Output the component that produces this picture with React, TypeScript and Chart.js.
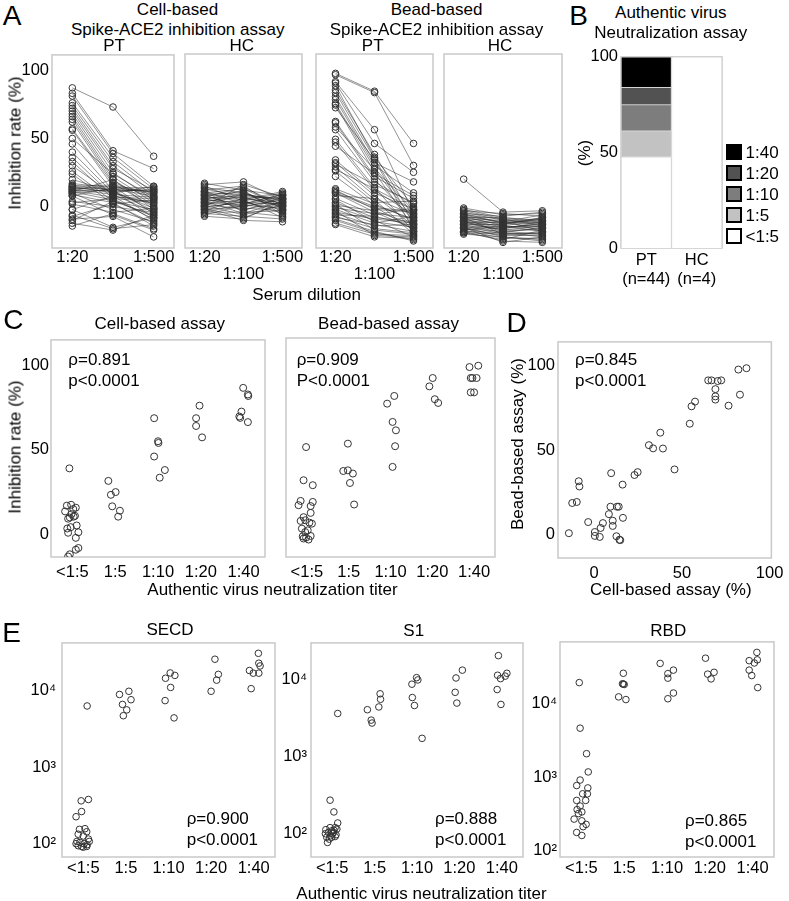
import React, { useEffect, useRef } from 'react';
import { Chart, registerables } from 'chart.js';

Chart.register(...registerables);

const FONT = "'Liberation Sans', Arial, Helvetica, sans-serif";
const TICK_SIZE = 16.5;
const TEXT_SIZE = 17;
Chart.defaults.font.family = FONT;
Chart.defaults.font.size = TICK_SIZE;
Chart.defaults.color = '#000';

// ---------------- DATA ----------------
const DILUTIONS = ['1:20', '1:100', '1:500'];
const TITERS = ['<1:5', '1:5', '1:10', '1:20', '1:40'];

// Panel A: each row = one serum, inhibition (%) at 1:20, 1:100, 1:500
const cellPT = [
  [87, 73, 37], [83, 41, 28], [81, 39, 15], [76, 36, 13], [74, 33, 10], [72, 30, 8], [70, 28, 12],
  [68, 25, 5], [66, 22, 3], [64, 20, -2], [62, 18, 6], [57, 17, 0], [56, 15, -5], [46, 12, -8],
  [40, 10, 2], [36, 8, -10], [33, 6, 4], [26, 4, -6], [24, 2, -12], [17, 14, 14], [16, 12, 12],
  [15, 16, 10], [15, 10, 15], [14, 13, 11], [14, 11, 13], [13, 9, 7], [13, 15, 9], [12, 12, -3],
  [12, 7, 6], [11, 20, 1], [11, 5, -7], [10, 13, 8], [10, -2, -11], [9, 3, -14], [8, 14, 11],
  [8, -6, -17], [4, 0, -4], [3, 6, -9], [2, -4, -1], [-2, 8, 3], [-2, -15, -8], [-6, -16, -13],
  [-7, 2, 5], [-9, -7, -22], [-10, 4, -2], [-12, -17, -6], [-14, -5, -16], [20, 11, -1], [30, 9, -4],
  [50, 24, 7],
];
const cellHC = [
  [17, 12, 8], [16, 18, 5], [15, 4, 10], [14, 10, 2], [13, 7, 6], [12, 15, -2], [11, 2, 9], [10, 9, 4],
  [10, 13, 0], [9, -3, 7], [9, 6, 3], [8, 11, -4], [8, 0, 5], [7, 5, 11], [7, 14, 1], [6, -1, -3],
  [6, 8, 6], [5, 3, 2], [5, 12, -6], [4, -5, 4], [4, 7, 0], [3, 1, 8], [3, 10, -1], [2, -2, 3],
  [2, 5, -8], [1, 9, 5], [1, -6, 1], [0, 3, -2], [0, 16, 7], [-1, -8, 2], [-1, 4, -5], [-2, 0, 6],
  [-2, -10, -11], [-3, 6, 1], [-4, -4, -3], [-4, 2, 9], [-5, -7, -9], [-6, 1, -1], [-7, -9, 4], [11, -4, -7],
];
const beadPT = [
  [97, 84, 46], [96, 83, 30], [91, 56, -5], [90, 46, 25], [85, 38, -8], [83, 35, -12], [80, 32, 18],
  [78, 30, 10], [75, 28, -3], [74, 25, -15], [62, 22, 6], [61, 20, -10], [56, 18, 2], [49, 14, -18],
  [47, 12, -6], [34, 10, -2], [32, 8, -14], [29, 5, -20], [26, 3, 4], [22, 1, -9], [12, -2, -4],
  [10, -4, -16], [6, -6, -1], [3, -8, -11], [0, -10, -22], [-2, -12, -7], [-5, -14, -13], [-7, -16, -19],
  [-9, -18, -25], [-12, -20, -21], [-13, -22, -23], [27, 13, -2], [31, 16, 3], [44, 24, 8], [58, 27, -9],
  [72, 34, -17], [88, 36, 0], [10, -1, -3], [-1, -5, -8], [-4, -9, -12], [5, -11, -15], [-8, -13, -18],
  [2, -17, -20], [-10, -19, -24], [8, 6, -6], [13, 2, -10], [-3, -21, -22], [1, -3, -13], [-6, -7, -14],
  [11, 0, -17],
];
const beadHC = [
  [20, -4, -3], [-1, -6, -5], [-2, -8, -10], [-3, -5, -7], [-4, -10, -12], [-5, -7, -4], [-5, -12, -9],
  [-6, -9, -14], [-7, -11, -6], [-7, -14, -16], [-8, -8, -11], [-8, -13, -8], [-9, -15, -13], [-9, -10, -18],
  [-10, -16, -12], [-10, -12, -15], [-11, -14, -10], [-11, -18, -20], [-12, -11, -13], [-12, -17, -17],
  [-13, -13, -9], [-13, -19, -22], [-14, -15, -14], [-14, -20, -19], [-15, -16, -11], [-15, -22, -24],
  [-16, -18, -16], [-16, -21, -21], [-17, -14, -18], [-17, -23, -23], [-18, -19, -15], [-18, -25, -26],
  [-19, -20, -20], [-19, -24, -17], [-20, -22, -25], [-6, -12, -8], [-3, -9, -12], [-11, -17, -14],
  [-15, -26, -22], [-8, -20, -19],
];

// Panel B: number of sera per titer group (bottom -> top)
const titerGroups = ['<1:5', '1:5', '1:10', '1:20', '1:40'];
const ptCounts = [21, 6, 6, 4, 7];
const hcCounts = [4, 0, 0, 0, 0];
const titerColors = ['#ffffff', '#c2c2c2', '#7d7d7d', '#525252', '#000000'];
const groupLabels = [['PT', '(n=44)'], ['HC', '(n=4)']];

// Panel C: [titer position (with jitter), inhibition %]
const cellVsTiter = [
  [-0.07, 39], [-0.13, 17], [-0.03, 17.5], [-0.17, 13.6], [0.08, 15.8], [0.06, 11], [-0.06, 10], [-0.1, 9.3],
  [-0.04, 4.3], [0.1, 5.3], [-0.1, 1], [0.14, 1.3], [0.08, -2], [0.14, -8], [0.08, -9], [-0.06, -11.7],
  [-0.1, -13], [-0.02, 12], [0.02, 15], [0.03, 10.5], [-0.12, 3.5],
  [0.84, 31.6], [0.9, 23.4], [1.01, 25], [0.93, 16.6], [1.11, 14], [1.07, 10.5],
  [1.91, 68.6], [2.0, 55], [2.01, 54], [1.91, 46], [2.16, 38], [2.04, 33.5],
  [2.89, 68.6], [2.97, 76], [2.89, 64], [3.03, 57.3],
  [3.99, 86.5], [4.1, 82.6], [4.11, 81.7], [3.95, 72.5], [3.9, 69.6], [3.92, 68.8], [4.1, 66.3],
];
const beadVsTiter = [
  [-0.02, 51], [-0.08, 31.6], [0.14, 28.7], [-0.15, 19.5], [0.14, 18.9], [-0.2, 17], [0.09, 16.5], [0.09, 12.5],
  [-0.08, 10], [-0.04, 8.2], [-0.15, 7.8], [0.06, 6.8], [0.12, 6.2], [-0.12, 3.3], [-0.04, 1.3], [0.02, 2.3],
  [-0.1, -1.2], [-0.02, -2], [0.04, -3.1], [0.09, -1], [-0.08, -2.5],
  [0.98, 53], [0.87, 37], [0.98, 37.4], [1.1, 35.5], [1.03, 30], [1.13, 17.4],
  [1.92, 76.4], [2.09, 80.9], [2.05, 65.7], [2.13, 60.8], [2.11, 51.5], [2.05, 39.4],
  [2.93, 86.5], [3.01, 91.4], [3.06, 79], [3.14, 76.8],
  [3.89, 97.8], [4.1, 98.6], [3.92, 91.4], [3.96, 91.4], [4.06, 91.4], [3.92, 83], [4.0, 83],
];

// Panel D: [cell-based %, bead-based %]
const cellVsBead = [
  [-14.4, 0.8], [-12.5, 18.7], [-9.9, 19.3], [-8.8, 31.6], [-8.4, 28.5], [-3.4, 7.4], [0.4, 1.5], [0.4, -0.8],
  [3.2, -1.4], [3.7, 3.9], [5, 6.8], [8.4, 12.1], [9.7, 36.4], [9.3, 16.5], [10.6, 8.2], [10.6, 5.1],
  [13, 16.5], [14, 16.5], [12.7, -1], [14.4, -3.1], [14.9, -3.3], [16.2, 29.6], [16.4, 9.9], [23, 35.3],
  [24.8, 37], [31.2, 53], [33.6, 51.1], [37.7, 60.4], [39.2, 51], [45.8, 38.6], [54.5, 65.7], [55.5, 76],
  [57.5, 78.8], [65, 91.4], [66.9, 91.4], [69.1, 86.2], [69.1, 81.9], [69.1, 80], [70.4, 91], [72.4, 91.4],
  [76.6, 76.4], [82.2, 97.8], [83.1, 82.9], [86.8, 98.6],
];

// Panel E: [titer position (with jitter), antibody level]
const secd = [
  [0.09, 6300], [-0.05, 363], [0.12, 378], [-0.04, 263], [-0.17, 225], [-0.09, 154], [0.04, 157], [-0.12, 133],
  [0.08, 143], [0, 126], [0.12, 115], [-0.15, 107], [-0.08, 104], [0.14, 107], [-0.12, 94], [-0.04, 92],
  [0.08, 92], [0.02, 100], [-0.17, 100], [0.09, 97], [0, 90],
  [0.85, 8900], [1.07, 9800], [1.12, 7600], [0.92, 6600], [1.02, 5600], [0.94, 4700],
  [2.04, 17000], [1.93, 14500], [2.15, 15800], [2.05, 11000], [1.92, 7400], [2.13, 4400],
  [3.09, 25700], [3.17, 16300], [3.13, 13700], [3.0, 9800],
  [4.11, 30700], [4.12, 22800], [4.15, 21000], [3.9, 18300], [3.99, 16900], [4.12, 16900], [3.94, 10600],
];
const s1 = [
  [0.13, 3660], [-0.05, 273], [0.04, 192], [0.13, 138], [-0.05, 120], [0.07, 120], [-0.15, 113], [-0.01, 109],
  [0.11, 115], [-0.09, 104], [0.03, 104], [-0.13, 90], [0.07, 92], [-0.04, 94], [-0.11, 77], [0.01, 100],
  [-0.07, 85], [0.09, 97], [-0.16, 100], [0.04, 111], [-0.01, 90],
  [0.83, 4100], [0.92, 3000], [0.94, 2750], [1.1, 4450], [1.14, 5600], [1.13, 6600],
  [1.99, 10700], [2.02, 10000], [1.88, 8800], [1.89, 5900], [1.94, 4650], [2.12, 1740],
  [3.07, 13400], [2.92, 10600], [2.9, 6900], [2.94, 5000],
  [3.92, 20700], [3.9, 11500], [4.12, 12200], [4.08, 11200], [3.97, 10400], [3.89, 7500], [3.98, 4800],
];
const rbd = [
  [-0.05, 19400], [-0.03, 4650], [0.12, 2090], [0.16, 1180], [-0.03, 915], [-0.11, 770], [0.15, 715], [0.03, 594],
  [0.14, 594], [-0.11, 483], [0.1, 483], [-0.03, 405], [-0.1, 362], [0.01, 337], [-0.07, 320], [-0.17, 269],
  [0.01, 255], [0.11, 228], [0.04, 212], [-0.11, 177], [0.01, 161],
  [0.98, 26000], [0.96, 18700], [1.0, 18300], [0.98, 18500], [0.87, 12400], [1.04, 11400],
  [1.84, 35400], [2.15, 28700], [2.02, 25700], [2.02, 22300], [2.15, 14000], [2.02, 11700],
  [2.9, 41700], [2.95, 25300], [3.1, 26800], [3.03, 21800],
  [4.1, 50000], [4.11, 39600], [3.92, 38600], [4.04, 35900], [3.92, 28700], [3.98, 24200], [4.12, 16600],
];
const logTickLabels: Record<number, string> = { 100: '10²', 1000: '10³', 10000: '10⁴' };

// ---------------- HELPERS ----------------
type Pad = { l: number; r: number; t: number; b: number };
const POINT = '#333333';
const LINE = 'rgba(40,40,40,0.72)';

const framePlugin = {
  id: 'frame',
  beforeDatasetsDraw(chart: any) {
    const { ctx, chartArea: a } = chart;
    ctx.save();
    ctx.strokeStyle = '#c9c9c9';
    ctx.lineWidth = 1.5;
    ctx.strokeRect(a.left, a.top, a.right - a.left, a.bottom - a.top);
    ctx.restore();
  },
};

function xAxis(o: any) {
  return {
    type: o.type ?? 'linear',
    min: o.min,
    max: o.max,
    grid: { display: false, drawTicks: false },
    border: { display: false },
    afterBuildTicks: (s: any) => { s.ticks = o.ticks.map((v: number) => ({ value: v })); },
    afterFit: (s: any) => { s.height = o.size; },
    ticks: {
      autoSkip: false, maxRotation: 0, minRotation: 0, padding: o.pad,
      font: { size: TICK_SIZE, lineHeight: o.lh ?? 1.2 }, color: '#000',
      callback: (v: any) => o.label(Number(v)),
    },
  };
}
function yAxis(o: any) {
  return {
    type: o.type ?? 'linear',
    min: o.min,
    max: o.max,
    grid: { display: false, drawTicks: false },
    border: { display: false },
    afterBuildTicks: (s: any) => { s.ticks = o.ticks.map((v: number) => ({ value: v })); },
    afterFit: (s: any) => { s.width = o.size; },
    ticks: {
      autoSkip: false, padding: o.pad, font: { size: TICK_SIZE }, color: '#000',
      callback: (v: any) => o.label(Number(v)),
    },
  };
}
const hiddenAxis = (min: number, max: number, type = 'linear') => ({ type, min, max, display: false });

function ChartBox({ box, pad, build }: { box: number[]; pad: Pad; build: (p: Pad) => any }) {
  const ref = useRef<HTMLCanvasElement>(null);
  const w = box[2] - box[0] + pad.l + pad.r;
  const h = box[3] - box[1] + pad.t + pad.b;
  useEffect(() => {
    const cfg = build(pad);
    cfg.options = {
      ...cfg.options,
      responsive: false,
      maintainAspectRatio: false,
      animation: false,
      layout: { padding: { left: 0, right: pad.r, top: pad.t, bottom: 0 } },
      plugins: { legend: { display: false }, tooltip: { enabled: false } },
    };
    cfg.plugins = [framePlugin];
    const chart = new Chart(ref.current as HTMLCanvasElement, cfg);
    return () => chart.destroy();
  }, []);
  return (
    <canvas
      ref={ref}
      width={w}
      height={h}
      style={{ position: 'absolute', left: box[0] - pad.l, top: box[1] - pad.t, width: w, height: h }}
    />
  );
}

function Txt({ x, y, children, size = TEXT_SIZE, anchor = 'center', rotate = false }: any) {
  const tx = anchor === 'center' ? '-50%' : anchor === 'left' ? '0' : '-100%';
  return (
    <div
      style={{
        position: 'absolute', left: x, top: y, fontSize: size, lineHeight: 1, whiteSpace: 'nowrap',
        transform: `translate(${tx},-50%)${rotate ? ' rotate(-90deg)' : ''}`,
      }}
    >
      {children}
    </div>
  );
}

// ---------------- CONFIG BUILDERS ----------------
const A_MIN = -30.1, A_MAX = 111.1;
const paneA = (rows: number[][], showY: boolean) => (p: Pad) => ({
  type: 'scatter',
  data: {
    datasets: rows.map((r) => ({
      data: r.map((v, i) => ({ x: i, y: v })),
      showLine: true, borderColor: LINE, borderWidth: 0.7,
      pointRadius: 3.3, pointBorderColor: POINT, pointBackgroundColor: 'rgba(0,0,0,0)', pointBorderWidth: 1,
    })),
  },
  options: {
    scales: {
      x: xAxis({
        min: -0.5, max: 2.5, ticks: [0, 1, 2], size: p.b, pad: 1.4, lh: 1.02,
        label: (v: number) => (v === 1 ? ['', DILUTIONS[1]] : DILUTIONS[v]),
      }),
      y: showY
        ? yAxis({ min: A_MIN, max: A_MAX, ticks: [0, 50, 100], size: p.l, pad: 3, label: (v: number) => String(v) })
        : hiddenAxis(A_MIN, A_MAX),
    },
  },
});

const ptTotal = ptCounts.reduce((a, b) => a + b, 0);
const hcTotal = hcCounts.reduce((a, b) => a + b, 0);
const paneB = (p: Pad) => ({
  type: 'bar',
  data: {
    labels: groupLabels,
    datasets: titerGroups.map((g, i) => ({
      label: g,
      data: [(ptCounts[i] / ptTotal) * 100, (hcCounts[i] / hcTotal) * 100],
      backgroundColor: titerColors[i], borderColor: '#d4d4d4', borderWidth: 1,
      barPercentage: 1, categoryPercentage: 1,
    })),
  },
  options: {
    scales: {
      x: {
        stacked: true, grid: { display: false, drawTicks: false }, border: { display: false },
        ticks: {
          padding: 3, autoSkip: false, maxRotation: 0, minRotation: 0,
          font: { size: TICK_SIZE, lineHeight: 1.15 }, color: '#000',
        },
        afterFit: (s: any) => { s.height = p.b; },
      },
      y: { ...yAxis({ min: 0, max: 100, ticks: [0, 50, 100], size: p.l, pad: 3, label: (v: number) => String(v) }), stacked: true },
    },
  },
});

const C_MIN = -13.3, C_MAX = 114.8;
const scatterDs = (pts: number[][], r = 3.5) => ({
  data: pts.map(([x, y]) => ({ x, y })),
  pointRadius: r, pointBorderColor: POINT, pointBackgroundColor: 'rgba(0,0,0,0)', pointBorderWidth: 1,
});
const titerX = (p: Pad, pad: number) =>
  xAxis({ min: -0.5, max: 4.5, ticks: [0, 1, 2, 3, 4], size: p.b, pad, label: (v: number) => TITERS[v] });

const paneC = (pts: number[][], showY: boolean) => (p: Pad) => ({
  type: 'scatter',
  data: { datasets: [scatterDs(pts)] },
  options: {
    scales: {
      x: titerX(p, 5.4),
      y: showY
        ? yAxis({ min: C_MIN, max: C_MAX, ticks: [0, 50, 100], size: p.l, pad: 2, label: (v: number) => String(v) })
        : hiddenAxis(C_MIN, C_MAX),
    },
  },
});

const paneD = (p: Pad) => ({
  type: 'scatter',
  data: { datasets: [scatterDs(cellVsBead)] },
  options: {
    scales: {
      x: xAxis({ min: -20.6, max: 101, ticks: [0, 50, 100], size: p.b, pad: 5.5, label: (v: number) => String(v) }),
      y: yAxis({ min: -13.9, max: 114.2, ticks: [0, 50, 100], size: p.l, pad: 3, label: (v: number) => String(v) }),
    },
  },
});

const paneE = (pts: number[][], min: number, max: number, ypad: number) => (p: Pad) => ({
  type: 'scatter',
  data: { datasets: [scatterDs(pts, 3.3)] },
  options: {
    scales: {
      x: titerX(p, 1.5),
      y: yAxis({
        type: 'logarithmic', min, max, ticks: [100, 1000, 10000], size: p.l, pad: ypad,
        label: (v: number) => logTickLabels[v] ?? '',
      }),
    },
  },
});

// ---------------- APP ----------------
export default function App() {
  const rho = (x: number, y: number, a: string, b: string) => (
    <>
      <Txt x={x} y={y} anchor="left">{a}</Txt>
      <Txt x={x} y={y + 21} anchor="left">{b}</Txt>
    </>
  );
  const legendOrder = [4, 3, 2, 1, 0];
  return (
    <div
      style={{
        position: 'absolute', left: 0, top: 0, width: 789, height: 901, overflow: 'hidden',
        background: '#fff', fontFamily: FONT, color: '#000',
      }}
    >
      {/* ---------- Panel A ---------- */}
      <ChartBox box={[52, 54, 176, 248]} pad={{ l: 52, r: 3, t: 12, b: 40 }} build={paneA(cellPT, true)} />
      <ChartBox box={[180, 54, 303, 248]} pad={{ l: 0, r: 4, t: 12, b: 40 }} build={paneA(cellHC, false)} />
      <ChartBox box={[311, 54, 435, 248]} pad={{ l: 0, r: 3, t: 12, b: 40 }} build={paneA(beadPT, false)} />
      <ChartBox box={[439, 54, 563, 248]} pad={{ l: 0, r: 4, t: 12, b: 40 }} build={paneA(beadHC, false)} />
      <Txt x={12} y={15.5} size={28}>A</Txt>
      <Txt x={177.5} y={8.5}>Cell-based</Txt>
      <Txt x={177.7} y={28.5}>Spike-ACE2 inhibition assay</Txt>
      <Txt x={114} y={45}>PT</Txt>
      <Txt x={241.7} y={45}>HC</Txt>
      <Txt x={436.5} y={8.5}>Bead-based</Txt>
      <Txt x={436.5} y={28.5}>Spike-ACE2 inhibition assay</Txt>
      <Txt x={372.7} y={45}>PT</Txt>
      <Txt x={500} y={45}>HC</Txt>
      <Txt x={15} y={143.3} rotate>Inhibition rate (%)</Txt>
      <Txt x={306.7} y={293.7}>Serum dilution</Txt>

      {/* ---------- Panel B ---------- */}
      <ChartBox box={[621, 56, 722, 248]} pad={{ l: 40, r: 2, t: 12, b: 45 }} build={paneB} />
      <Txt x={578.5} y={15.8} size={28}>B</Txt>
      <Txt x={670.8} y={11.7}>Authentic virus</Txt>
      <Txt x={670.8} y={31.7}>Neutralization assay</Txt>
      <Txt x={584} y={152.5} rotate>(%)</Txt>
      {legendOrder.map((gi, k) => (
        <React.Fragment key={gi}>
          <div
            style={{
              position: 'absolute', left: 726, top: 151.7 + k * 21.1 - 8, width: 16, height: 16,
              boxSizing: 'border-box', border: '2px solid #000', background: titerColors[gi],
            }}
          />
          <Txt x={745.5} y={151.7 + k * 21.1} anchor="left">{titerGroups[gi]}</Txt>
        </React.Fragment>
      ))}

      {/* ---------- Panel C ---------- */}
      <ChartBox box={[51, 338, 265, 557]} pad={{ l: 51, r: 6, t: 10, b: 30 }} build={paneC(cellVsTiter, true)} />
      <ChartBox box={[281, 338, 495, 557]} pad={{ l: 0, r: 6, t: 10, b: 30 }} build={paneC(beadVsTiter, false)} />
      <Txt x={13.3} y={319.5} size={28}>C</Txt>
      <Txt x={159.7} y={323.3}>Cell-based assay</Txt>
      <Txt x={388.5} y={323.3}>Bead-based assay</Txt>
      {rho(68.3, 359, 'ρ=0.891', 'p<0.0001')}
      {rho(296.7, 359, 'ρ=0.909', 'P<0.0001')}
      <Txt x={15} y={447} rotate>Inhibition rate (%)</Txt>
      <Txt x={272.5} y={589}>Authentic virus neutralization titer</Txt>

      {/* ---------- Panel D ---------- */}
      <ChartBox box={[558, 339, 775, 558]} pad={{ l: 45, r: 14, t: 10, b: 30 }} build={paneD} />
      <Txt x={516.7} y={323} size={28}>D</Txt>
      <Txt x={517} y={444} rotate>Bead-based assay (%)</Txt>
      <Txt x={670.8} y={589}>Cell-based assay (%)</Txt>
      {rho(575, 359, 'ρ=0.845', 'p<0.0001')}

      {/* ---------- Panel E ---------- */}
      <ChartBox box={[62, 637, 275, 857]} pad={{ l: 50, r: 6, t: 10, b: 20 }} build={paneE(secd, 67, 42000, 6)} />
      <ChartBox box={[311, 639, 523, 857]} pad={{ l: 50, r: 6, t: 10, b: 20 }} build={paneE(s1, 49.8, 30300, 4)} />
      <ChartBox box={[560, 639, 774, 857]} pad={{ l: 48, r: 10, t: 10, b: 20 }} build={paneE(rbd, 82, 69500, 3)} />
      <Txt x={11.7} y={633} size={28}>E</Txt>
      <Txt x={170} y={629}>SECD</Txt>
      <Txt x={413.7} y={630}>S1</Txt>
      <Txt x={668.3} y={630}>RBD</Txt>
      {rho(186.7, 818, 'ρ=0.900', 'p<0.0001')}
      {rho(435, 817.5, 'ρ=0.888', 'p<0.0001')}
      {rho(685, 819.7, 'ρ=0.865', 'p<0.0001')}
      <Txt x={421.5} y={893}>Authentic virus neutralization titer</Txt>
    </div>
  );
}
